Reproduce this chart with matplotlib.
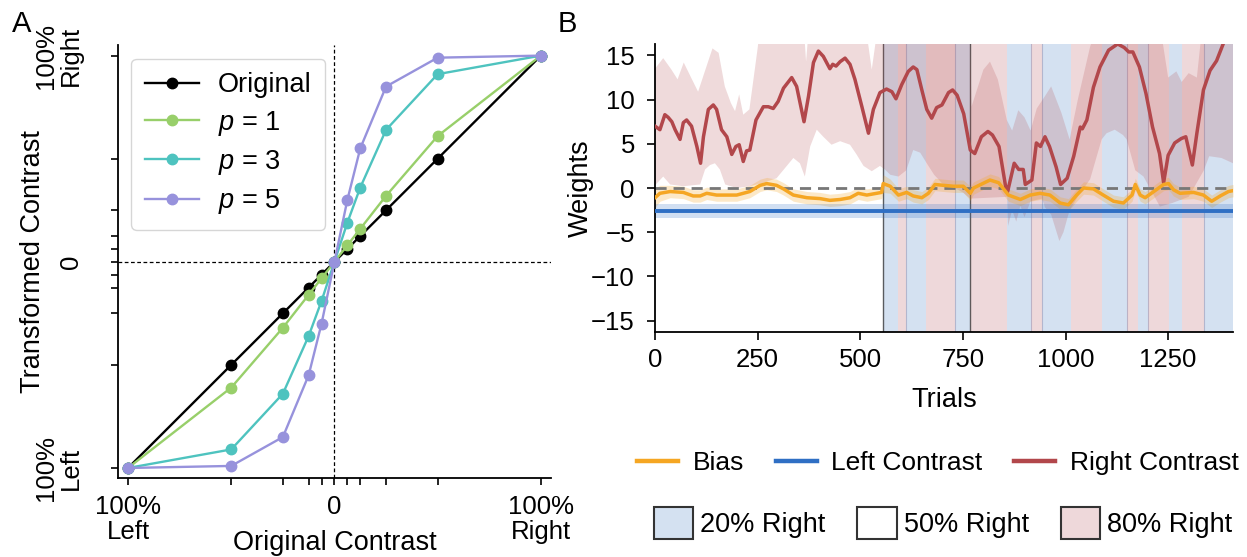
import numpy as np
import matplotlib
matplotlib.use("Agg")
from matplotlib import pyplot as plt
from matplotlib.lines import Line2D
from matplotlib.patches import Patch

plt.rcParams['font.family'] = ['Liberation Sans', 'DejaVu Sans']
plt.rcParams['mathtext.fontset'] = 'custom'
plt.rcParams['mathtext.rm'] = 'Liberation Sans'
plt.rcParams['mathtext.it'] = 'Liberation Sans:italic'
plt.rcParams['font.size'] = 18.5
plt.rcParams['axes.linewidth'] = 1.3

# ---- panel A data ----
contrasts = [-1, -0.5, -0.25, -0.125, -0.0625, 0, 0.0625, 0.125, 0.25, 0.5, 1]
original = [-1, -0.5, -0.25, -0.125, -0.0625, 0, 0.0625, 0.125, 0.25, 0.5, 1]
p1 = [-1, -0.61, -0.32, -0.16, -0.08, 0, 0.08, 0.16, 0.32, 0.61, 1]
p3 = [-1, -0.91, -0.64, -0.36, -0.19, 0, 0.19, 0.36, 0.64, 0.91, 1]
p5 = [-1, -0.99, -0.85, -0.55, -0.30, 0, 0.30, 0.55, 0.85, 0.99, 1]

# ---- panel B data ----
block_edges = [0, 556, 592, 612, 660, 730, 768, 858, 916, 943, 1014, 1088,
               1149, 1176, 1201, 1252, 1283, 1337, 1408]
block_probs = [0.5, 0.2, 0.8, 0.2, 0.8, 0.2, 0.8, 0.2, 0.8, 0.2, 0.8, 0.2,
               0.8, 0.2, 0.8, 0.2, 0.8, 0.2]
session_starts = [556, 768]
switch_marks = [612, 730, 916, 943, 1149, 1201, 1337]

right_t = [0, 12, 24, 32, 41, 49, 61, 69, 77, 89, 102, 111, 118, 130, 142, 150,
           162, 175, 187, 197, 205, 215, 223, 231, 246, 264, 276, 288, 300, 313,
           333, 345, 363, 374, 386, 398, 410, 426, 433, 441, 451, 463, 475, 487,
           504, 520, 532, 548, 564, 577, 587, 601, 617, 629, 638, 650, 662, 674,
           686, 699, 715, 725, 736, 752, 768, 779, 795, 811, 822, 838, 854, 859,
           875, 886, 897, 902, 918, 929, 939, 950, 961, 977, 988, 1004, 1020,
           1036, 1041, 1052, 1068, 1084, 1105, 1127, 1143, 1154, 1164, 1180,
           1196, 1212, 1229, 1239, 1250, 1266, 1282, 1293, 1309, 1320, 1336,
           1352, 1368, 1384, 1395, 1408]
right_w = [7.0, 6.6, 8.3, 8.0, 7.5, 6.6, 5.5, 7.4, 7.7, 7.0, 4.7, 2.8, 5.8, 8.9,
           9.4, 8.9, 6.6, 5.8, 3.8, 4.7, 4.9, 3.0, 4.2, 4.3, 7.7, 9.2, 9.2, 9.0,
           9.8, 11.3, 12.5, 11.5, 7.5, 10.4, 14.2, 15.5, 14.9, 13.5, 14.0, 13.8,
           14.3, 14.7, 14.0, 12.3, 9.2, 6.2, 8.9, 10.8, 11.2, 10.9, 10.1, 11.7,
           13.2, 13.7, 13.4, 11.1, 8.9, 7.9, 9.1, 9.4, 10.8, 11.1, 10.5, 8.4,
           4.3, 3.9, 5.8, 6.4, 6.0, 4.7, 0.2, -0.4, 2.8, 2.1, 2.1, 0.4, 0.9, 5.1,
           4.7, 5.8, 4.7, 2.4, 0.4, 1.1, 3.6, 6.9, 6.7, 7.7, 11.4, 13.7, 15.6,
           16.3, 15.9, 15.4, 15.4, 13.7, 10.7, 6.9, 3.9, 0.6, 3.7, 5.1, 5.6, 5.8,
           2.6, 6.2, 11.1, 13.3, 14.4, 16.3, 17.4, 19.0]

right_hi_t = [0, 20, 40, 55, 70, 90, 105, 120, 140, 155, 170, 185, 195, 205,
              215, 230, 250, 260, 360, 368, 378, 508, 528, 548, 766, 771, 800,
              816, 835, 857, 870, 885, 900, 915, 930, 950, 965, 990, 1010, 1030,
              1060, 1088, 1225, 1250, 1270, 1283, 1300, 1320, 1337, 1408]
right_hi = [13.5, 14.7, 13.4, 12.3, 14.2, 12.3, 10.9, 13.0, 15.8, 15.3, 11.5,
            9.6, 8.7, 10.6, 8.3, 8.9, 15.8, 20, 20, 14.3, 20, 20, 13.4, 20, 20,
            9.2, 13.4, 14.3, 12.3, 7.7, 6.5, 8.8, 8.0, 6.5, 9.0, 10.4, 11.5, 8.5,
            5.5, 10.0, 16.0, 20, 20, 12.5, 13.2, 12.0, 13.0, 12.5, 20, 20]
right_lo_t = [0, 20, 37, 69, 110, 122, 134, 146, 158, 171, 199, 231, 264, 296,
              321, 337, 353, 365, 378, 394, 410, 430, 451, 475, 491, 508, 528,
              548, 560, 573, 593, 612, 629, 646, 662, 680, 700, 730, 750, 768,
              858, 860, 870, 880, 890, 900, 915, 943, 950, 965, 985, 995, 1010,
              1030, 1060, 1088, 1100, 1120, 1140, 1149, 1170, 1190, 1230, 1260,
              1300, 1337, 1350, 1380, 1408]
right_lo = [0.3, 1.3, 0.4, 0.2, 0.4, 2.1, 2.6, 2.8, 2.1, 0.4, 0.0, 0.2, 0.6, 1.1,
            2.5, 3.4, 2.8, 1.3, 4.7, 6.6, 5.8, 4.9, 5.3, 4.9, 3.8, 2.5, 1.9, 2.5,
            2.1, 1.5, 1.3, 2.0, 4.3, 4.0, 2.8, 1.5, 0.5, 0.0, -0.5, -1.2, -1.0,
            -4.3, -2.5, -3.8, -2.0, -3.3, -1.5, -1.2, -2.2, -3.0, -6.0, -5.0,
            -2.5, -1.0, 1.0, 5.5, 6.2, 6.6, 6.0, 5.5, 2.0, 1.3, -2.1, -1.7, -1.0,
            2.0, 3.6, 3.4, 2.8]

bias_t = [0, 12, 37, 69, 93, 110, 126, 150, 175, 199, 231, 256, 272, 296, 313,
          337, 370, 402, 426, 451, 475, 495, 516, 540, 552, 556, 573, 593, 613,
          629, 650, 666, 682, 703, 727, 751, 768, 776, 816, 837, 861, 890, 914,
          938, 962, 987, 1007, 1027, 1044, 1068, 1092, 1117, 1141, 1162, 1170,
          1182, 1194, 1215, 1239, 1251, 1263, 1279, 1312, 1336, 1356, 1377,
          1397, 1408]
bias_w = [-1.1, -0.6, -0.4, -0.5, -0.9, -0.9, -0.6, -0.8, -0.8, -0.8, -0.4, 0.3,
          0.5, 0.3, -0.1, -0.8, -1.1, -1.2, -1.4, -1.3, -1.1, -0.6, -0.8, -0.6,
          -0.5, 0.5, 0.2, -0.8, -0.5, -0.9, -1.1, -0.6, 0.4, 0.3, 0.2, 0.2, -0.6,
          0.0, 0.9, 0.6, -0.8, -1.3, -0.8, -0.6, -0.8, -1.7, -1.9, -0.8, 0.0,
          -0.1, -0.8, -1.5, -1.7, -0.8, 0.4, -0.8, -1.1, -0.4, 0.4, 0.5, -0.2,
          -0.6, -0.5, -0.8, -1.5, -0.9, -0.4, -0.3]
bias_err = [1.1, 0.9, 0.7, 0.7, 0.7, 0.7, 0.7, 0.7, 0.7, 0.7, 0.7, 0.7, 0.7, 0.7,
            0.7, 0.7, 0.7, 0.7, 0.7, 0.7, 0.7, 0.7, 0.7, 0.7, 0.7, 1.0, 0.8, 0.7,
            0.7, 0.7, 0.7, 0.7, 0.7, 0.7, 0.7, 0.7, 0.8, 0.7, 0.7, 0.7, 0.7, 0.7,
            0.7, 0.7, 0.7, 0.7, 0.7, 0.7, 0.7, 0.7, 0.7, 0.7, 0.7, 0.7, 0.7, 0.7,
            0.7, 0.7, 0.7, 0.7, 0.7, 0.7, 0.7, 0.7, 0.7, 0.7, 0.7, 0.7]

left_t = [0, 1408]
left_w = [-2.6, -2.6]
left_err = [0.75, 0.75]

c_orange = '#f5a623'
c_blue = '#2f6fc4'
c_red = '#b2474b'
shade = {0.2: '#d4e1f1', 0.5: '#ffffff', 0.8: '#eed8da'}

fig = plt.figure(figsize=(12.47, 5.57), dpi=100)

# ---------------- A ----------------
axA = fig.add_axes([117.7 / 1247, 1 - 478.3 / 557, 433.5 / 1247, 433 / 557])
axA.axvline(0, color='black', ls='--', lw=0.9, dashes=(3, 2), zorder=1)
axA.axhline(0, color='black', ls='--', lw=0.9, dashes=(3, 2), zorder=1)
axA.plot(contrasts, original, '-o', color='black', lw=1.7, ms=7.5, label='Original')
axA.plot(contrasts, p1, '-o', color='#98cf6a', lw=1.7, ms=7.5, label='$p$ = 1')
axA.plot(contrasts, p3, '-o', color='#4ec3bf', lw=1.7, ms=7.5, label='$p$ = 3')
axA.plot(contrasts, p5, '-o', color='#9792dc', lw=1.7, ms=7.5, label='$p$ = 5')
axA.set_xlim(-1.05, 1.05)
axA.set_ylim(-1.05, 1.05)
tick_lbl_x = ['100%\nLeft', '', '', '', '', '0', '', '', '', '', '100%\nRight']
tick_lbl_y = ['100%\nLeft', '', '', '', '', '0', '', '', '', '', '100%\nRight']
axA.set_xticks(contrasts, tick_lbl_x)
axA.set_yticks(contrasts, tick_lbl_y)
axA.tick_params(axis='x', length=5, width=1.2, pad=7)
axA.tick_params(axis='y', length=5, width=1.2, pad=20)
plt.setp(axA.get_yticklabels(), rotation=90, va='center', multialignment='center')
plt.setp(axA.get_xticklabels(), multialignment='center', linespacing=1.05)
plt.setp(axA.get_yticklabels(), linespacing=1.05)
axA.spines['top'].set_visible(False)
axA.spines['right'].set_visible(False)
axA.set_xlabel('Original Contrast', fontsize=19.5)
axA.xaxis.set_label_coords(0.5, -0.12)
axA.set_ylabel('Transformed Contrast', fontsize=19.5)
axA.yaxis.set_label_coords(-0.165, 0.5)
axA.legend(loc='upper left', markerscale=1.0, handlelength=2.0, labelspacing=0.38,
           borderpad=0.5, handletextpad=0.7, fontsize=19.5)

# ---------------- B ----------------
axB = fig.add_axes([655 / 1247, 1 - 332 / 557, 578 / 1247, 288 / 557])
for i in range(len(block_probs)):
    axB.axvspan(block_edges[i], block_edges[i + 1], color=shade[block_probs[i]],
                lw=0, zorder=0)
for s in switch_marks:
    axB.axvline(s, color='#9c9ab8', lw=0.8, alpha=0.6, zorder=0.5)
for s in session_starts:
    axB.axvline(s, color='#3a3a3a', lw=1.0, alpha=0.8, zorder=0.6)

axB.fill(right_hi_t + right_lo_t[::-1], right_hi + right_lo[::-1],
         color=c_red, alpha=0.2, lw=0, zorder=1)
bias_arr = np.array(bias_w)
err_arr = np.array(bias_err)
axB.fill_between(bias_t, bias_arr - err_arr, bias_arr + err_arr,
                 color=c_orange, alpha=0.25, lw=0, zorder=1.2)
left_arr = np.array(left_w)
axB.fill_between(left_t, left_arr - np.array(left_err), left_arr + np.array(left_err),
                 color=c_blue, alpha=0.22, lw=0, zorder=1.2)
axB.axhline(0, color='#777777', ls='--', lw=2, dashes=(4, 2.5), zorder=2)
axB.plot(right_t, right_w, color=c_red, lw=2.5, zorder=3)
axB.plot(bias_t, bias_w, color=c_orange, lw=2.5, zorder=3)
axB.plot(left_t, left_w, color=c_blue, lw=2.8, zorder=3)

axB.set_xlim(0, 1408)
axB.set_ylim(-16.3, 16.3)
axB.set_xticks([0, 250, 500, 750, 1000, 1250])
axB.set_yticks([-15, -10, -5, 0, 5, 10, 15])
axB.tick_params(length=5.5, width=1.2, pad=9)
axB.tick_params(axis='x', pad=6)
axB.spines['top'].set_visible(False)
axB.spines['right'].set_visible(False)
axB.set_xlabel('Trials', fontsize=19.5)
axB.xaxis.set_label_coords(0.5, -0.19)
axB.set_ylabel('Weights', fontsize=19.5)
axB.yaxis.set_label_coords(-0.105, 0.5)

h1 = [Line2D([], [], color=c_orange, lw=3.2, label='Bias'),
      Line2D([], [], color=c_blue, lw=3.2, label='Left Contrast'),
      Line2D([], [], color=c_red, lw=3.2, label='Right Contrast')]
leg1 = fig.legend(handles=h1, loc='center', bbox_to_anchor=(938 / 1247, 1 - 463 / 557),
                  ncol=3, frameon=False, handlelength=1.55, columnspacing=1.2,
                  handletextpad=0.55, fontsize=19.0)
h2 = [Patch(facecolor=shade[0.2], edgecolor='#333333', lw=1.5, label='20% Right'),
      Patch(facecolor=shade[0.5], edgecolor='#333333', lw=1.5, label='50% Right'),
      Patch(facecolor=shade[0.8], edgecolor='#333333', lw=1.5, label='80% Right')]
leg2 = fig.legend(handles=h2, loc='center', bbox_to_anchor=(943 / 1247, 1 - 523 / 557),
                  ncol=3, frameon=False, handlelength=1.45, handleheight=1.45,
                  columnspacing=1.2, handletextpad=0.25, fontsize=19.5)

fig.text(12 / 1247, 1 - 10 / 557, 'A', fontsize=21, va='top')
fig.text(558 / 1247, 1 - 10 / 557, 'B', fontsize=21, va='top')

plt.savefig('out.png', dpi=100)
